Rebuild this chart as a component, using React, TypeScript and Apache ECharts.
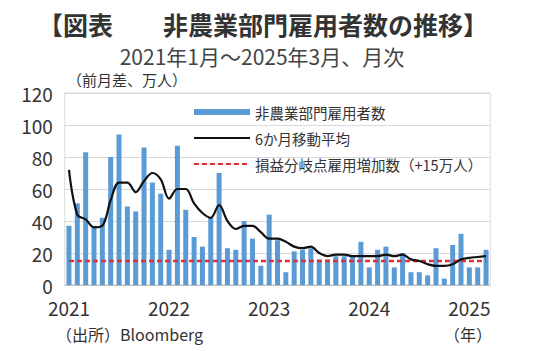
import React, { useEffect, useRef } from "react";
import * as echarts from "echarts";

// Categories: monthly, 2021-01 .. 2025-03
const years = [2021, 2022, 2023, 2024, 2025];
const categories: string[] = [];
years.forEach((y) => {
  const last = y === 2025 ? 3 : 12;
  for (let m = 1; m <= last; m++) categories.push(`${y}/${m < 10 ? "0" + m : m}`);
});

// 非農業部門雇用者数（前月差、万人）
const payrolls = [
  37, 51, 83, 37, 42, 80, 94, 49, 46, 86, 64, 57,
  22, 87, 47, 30, 24, 42, 70, 23, 22, 40, 29, 12,
  44, 28, 8, 21, 22, 23, 16, 16, 18, 18, 18, 27,
  11, 22, 24, 11, 20, 8, 8, 6, 23, 4, 25, 32,
  11, 11, 22,
];

const movingAvg = [
  72, 44, 41, 36, 37, 53, 64, 64, 58, 65, 70, 66,
  54, 60, 60, 51, 45, 42, 50, 40, 35, 37, 37, 33,
  29, 29, 27, 24, 23, 24, 20, 18, 19, 19, 18, 18,
  18, 18, 19, 18, 19, 16, 15, 13, 12, 12, 13, 16,
  17, 17.5, 18,
];

const BREAK_EVEN = 15;
const breakEven = categories.map(() => BREAK_EVEN);

const yTicks = { min: 0, max: 120, interval: 20 };

const FONT = "'Noto Sans CJK JP', 'Noto Sans', sans-serif";
const HIDDEN_SYMBOL = { color: "rgba(0,0,0,0)", borderWidth: 0, opacity: 0 };

export default function App() {
  const ref = useRef<HTMLDivElement>(null);
  useEffect(() => {
    document.body.style.margin = "0";
    const chart = echarts.init(ref.current!, undefined, { renderer: "svg" });
    chart.setOption({
      animation: false,
      backgroundColor: "#ffffff",
      textStyle: { fontFamily: FONT },
      grid: {
        left: 64.8,
        right: 49.8,
        top: 93,
        bottom: 66,
        show: true,
        borderColor: "#d9d9d9",
        borderWidth: 1,
      },
      legend: {
        orient: "vertical",
        left: 188,
        top: 99,
        itemWidth: 56,
        itemHeight: 6,
        itemGap: 10,
        textStyle: { fontSize: 14.5, color: "#333", fontFamily: FONT, lineHeight: 16 },
        data: [
          { name: "非農業部門雇用者数", icon: "rect" },
          { name: "6か月移動平均", itemStyle: HIDDEN_SYMBOL },
          { name: "損益分岐点雇用増加数（+15万人）", itemStyle: HIDDEN_SYMBOL },
        ],
      },
      xAxis: {
        type: "category",
        data: categories,
        boundaryGap: true,
        axisLine: { show: true, lineStyle: { color: "#bfbfbf" } },
        axisTick: { show: false },
        axisLabel: {
          interval: 11,
          formatter: (v: string) => v.slice(0, 4),
          fontSize: 19,
          color: "#333",
          margin: 13,
          fontFamily: FONT,
        },
      },
      yAxis: {
        type: "value",
        min: yTicks.min,
        max: yTicks.max,
        interval: yTicks.interval,
        axisLine: { show: false },
        axisTick: { show: false },
        splitLine: { lineStyle: { color: "#d9d9d9", width: 1 } },
        axisLabel: { fontSize: 19, color: "#333", margin: 12, fontFamily: FONT },
      },
      series: [
        {
          name: "非農業部門雇用者数",
          type: "bar",
          data: payrolls,
          barCategoryGap: "40%",
          itemStyle: { color: "#5b9bd5" },
          z: 2,
        },
        {
          name: "損益分岐点雇用増加数（+15万人）",
          type: "line",
          data: breakEven,
          symbol: "none",
          lineStyle: { color: "#e0313b", width: 2.5, type: [5, 3] },
          itemStyle: { color: "#e0313b" },
          z: 3,
        },
        {
          name: "6か月移動平均",
          type: "line",
          data: movingAvg,
          symbol: "none",
          smooth: 0.35,
          lineStyle: { color: "#111111", width: 2.2 },
          itemStyle: { color: "#111111" },
          z: 4,
        },
      ],
      graphic: [
        {
          type: "text",
          x: 263,
          y: 24,
          style: {
            text: "【図表　　非農業部門雇用者数の推移】",
            fontSize: 25,
            fontWeight: "bold",
            fill: "#333",
            fontFamily: FONT,
            textAlign: "center",
            textVerticalAlign: "middle",
          },
        },
        {
          type: "text",
          x: 262,
          y: 56,
          style: {
            text: "2021年1月～2025年3月、月次",
            fontSize: 21,
            fill: "#444",
            fontFamily: FONT,
            textAlign: "center",
            textVerticalAlign: "middle",
          },
        },
        {
          type: "text",
          x: 67,
          y: 79,
          style: {
            text: "（前月差、万人）",
            fontSize: 15,
            fill: "#333",
            fontFamily: FONT,
            textAlign: "left",
            textVerticalAlign: "middle",
          },
        },
        {
          type: "text",
          x: 56,
          y: 334,
          style: {
            text: "（出所）Bloomberg",
            fontSize: 16,
            fill: "#333",
            fontFamily: FONT,
            textAlign: "left",
            textVerticalAlign: "middle",
          },
        },
        {
          type: "text",
          x: 468,
          y: 334,
          style: {
            text: "（年）",
            fontSize: 16,
            fill: "#333",
            fontFamily: FONT,
            textAlign: "center",
            textVerticalAlign: "middle",
          },
        },
      ],
    });
    return () => chart.dispose();
  }, []);
  return <div ref={ref} style={{ width: 540, height: 351 }} />;
}
